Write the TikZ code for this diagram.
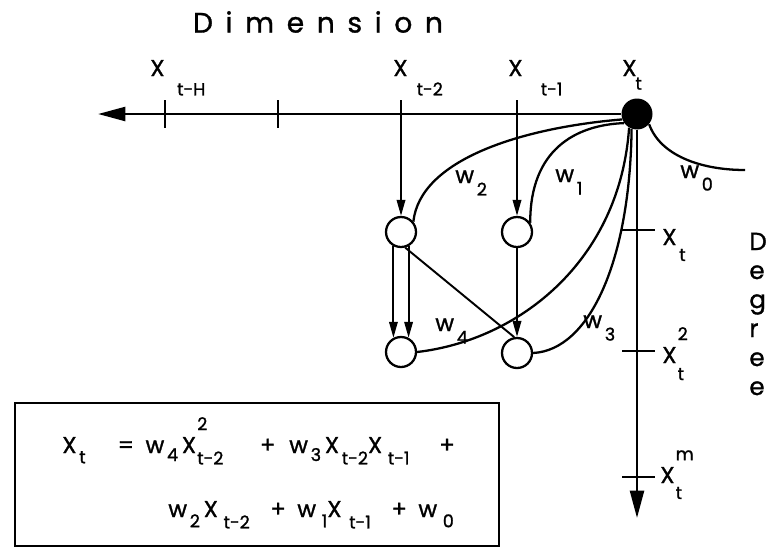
\documentclass[tikz,border=0pt]{standalone}
\usepackage{fontspec}
\setmainfont{Poppins}[FakeBold=1.2]
\newfontfamily\widefont[LetterSpace=45,FakeBold=1.2]{Poppins}
\usetikzlibrary{arrows.meta}
\newcommand{\sfs}{\fontsize{10}{12}\selectfont}
\newcommand{\lowsub}[3][0.55em]{#2\kern0.12em\raisebox{-#1}{\sfs #3}}
\newcommand{\axlbl}[4][0.85em]{#2\kern#3\raisebox{-#1}{\sfs #4}}
\newcommand{\subsup}[4][0.7em]{#2\kern0.05em\rlap{\raisebox{1.0em}{\sfs #4}}\raisebox{-#1}{\sfs #3}}

\begin{document}
\begin{tikzpicture}[x=0.02cm, y=-0.02cm,
  unit/.style={circle, draw, line width=1.3pt, minimum size=0.6cm, inner sep=0pt},
  output/.style={circle, fill, minimum size=0.62cm, inner sep=0pt},
  axis/.style={line width=1.5pt, -{Triangle[length=0.55cm, width=0.28cm]}},
  feed/.style={line width=1.1pt, -{Triangle[length=0.32cm, width=0.17cm]}},
  weight/.style={line width=1.3pt},
  tick/.style={line width=1.1pt},
  lbl/.style={font=\fontsize{13}{15}\selectfont, inner sep=0pt, anchor=base west}]
\useasboundingbox (0,0) rectangle (767,548);

% title
\node[font=\widefont\fontsize{16}{18}\selectfont, inner sep=0pt] (dim) at (318,22) {Dimension};

% output and units
\node[output] (xt) at (637,114) {};
\node[unit] (u2) at (401,232) {};
\node[unit] (u1) at (517,232) {};
\node[unit] (u4) at (401,352) {};
\node[unit] (u3) at (517,353) {};

% time axis
\coordinate (hend) at (98,114);
\draw[axis] (xt) -- (hend);
\foreach \x/\n in {165/tH, 278/tm, 401/t2, 517/t1} {
  \coordinate (\n) at (\x,114);
  \draw[tick] (\x,100) -- (\x,128);
}
\node[lbl] (lxH) at (150,76) {\axlbl{X}{0.55em}{t-H}};
\node[lbl] (lx2) at (393,76) {\axlbl{X}{0.4em}{t-2}};
\node[lbl] (lx1) at (508,76) {\axlbl{X}{0.8em}{t-1}};
\node[lbl] (lxt) at (622,76) {\axlbl[0.6em]{X}{-0.05em}{t}};

% degree axis
\coordinate (vend) at (637,518);
\draw[axis] (xt) -- (vend);
\foreach \y in {230,351,477}
  \draw[tick] (622,\y) -- (655,\y);
\node[lbl] (ld1) at (662,245) {\lowsub[0.7em]{X}{t}};
\node[lbl] (ld2) at (662,363) {\subsup[0.75em]{X}{t}{2}};
\node[lbl] (ldm) at (660,483) {\subsup[0.7em]{X}{t}{m}};
\foreach \c [count=\i] in {D,e,g,r,e,e}
  \node[lbl, font=\fontsize{14}{16}\selectfont] (deg\i) at (749,{250+29*(\i-1)}) {\c};

% inputs into the units
\draw[feed] (t2) -- (u2);
\draw[feed] (t1) -- (u1);
\draw[feed] (u2.-118) -- (u4.118);
\draw[feed] (u2.-62) -- (u4.62);
\draw[feed] (u1) -- (u3);
\draw[line width=1.1pt] (u2.-75) -- (u3.100);

% weighted links to the output
\draw[weight] (xt.200) .. controls (520,128) and (420,160) .. (u2.40);
\draw[weight] (xt.215) .. controls (575,125) and (530,150) .. (u1.35);
\coordinate (w0end) at (745,170);
\draw[weight] (xt.-40) .. controls (660,155) and (700,170) .. (w0end);
\draw[weight] (xt.240) .. controls (620,260) and (520,340) .. (u4.east);
\draw[weight] (xt.250) .. controls (630,260) and (590,350) .. (u3.east);
\node[lbl] (lw2) at (455,183) {\lowsub{w}{2}};
\node[lbl] (lw1) at (555,182) {\lowsub{w}{1}};
\node[lbl] (lw0) at (680,178) {\lowsub{w}{0}};
\node[lbl] (lw4) at (435,331) {\lowsub{w}{4}};
\node[lbl] (lw3) at (583,328) {\lowsub{w}{3}};

% polynomial
\draw[line width=1.4pt] (15,403) rectangle (499,546);
\node[lbl] (eq1) at (62,453) {\lowsub[0.45em]{X}{t}\hspace{1.4em}=\hspace{0.5em}\lowsub[0.35em]{w}{4}\,\subsup[0.5em]{X}{t-2}{2}\hspace{1.6em}+\hspace{0.6em}\lowsub[0.35em]{w}{3}\,\lowsub[0.5em]{X}{t-2}\lowsub[0.5em]{X}{\,t-1}\hspace{1.3em}+};
\node[lbl] (eq2) at (168,517) {\lowsub[0.45em]{w}{2}\,\lowsub[0.5em]{X}{\,t-2}\hspace{0.9em}+\hspace{0.5em}\lowsub[0.45em]{w}{\,1}\lowsub[0.5em]{X}{\;t-1}\hspace{0.9em}+\hspace{0.5em}\lowsub[0.45em]{w}{\,0}};
\end{tikzpicture}
\end{document}
